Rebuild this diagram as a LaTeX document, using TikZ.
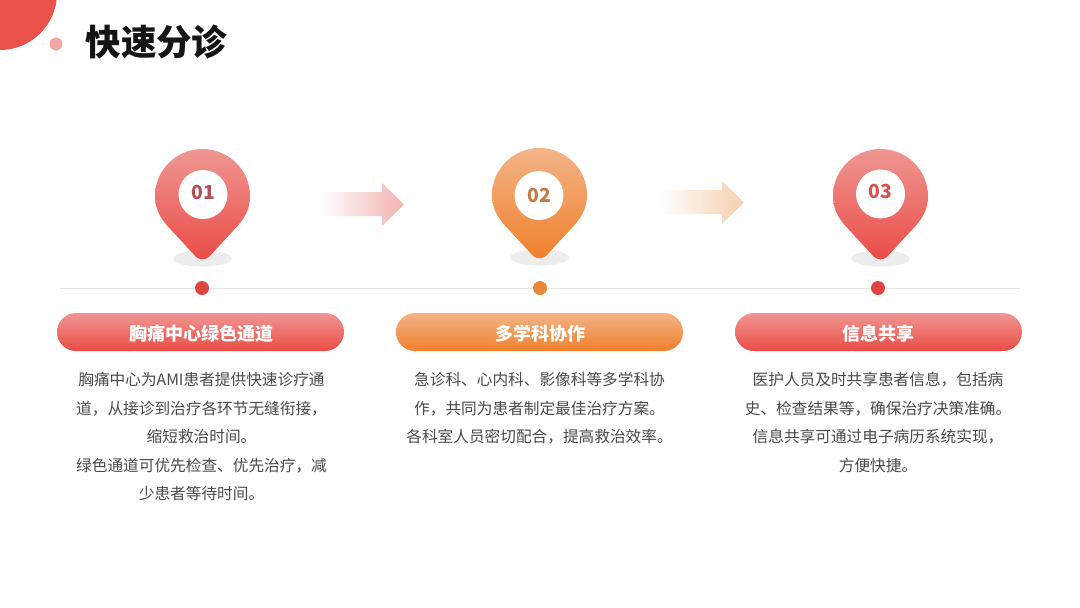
\documentclass[tikz,border=0pt]{standalone}
\usepackage{fontspec}
\setmainfont{Noto Sans CJK SC}
\usetikzlibrary{calc}
\definecolor{redTop}{HTML}{EF9793}
\definecolor{redBot}{HTML}{EB4C46}
\definecolor{orTop}{HTML}{F3B487}
\definecolor{orBot}{HTML}{F0802C}
\definecolor{redDot}{HTML}{DE4540}
\definecolor{orDot}{HTML}{E8863A}
\definecolor{bodyText}{HTML}{4A4A4A}
\definecolor{cornerRed}{HTML}{E8524A}
\definecolor{arrowRed}{HTML}{F2B2B0}
\definecolor{arrowOr}{HTML}{F6CFAE}
\definecolor{numRed}{HTML}{B5505A}
\definecolor{numOr}{HTML}{C47A45}
\definecolor{numRedB}{HTML}{D8504C}
\tikzset{
  x=0.75pt,y=-0.75pt,
  bodytext/.style={font=\fontsize{11.75pt}{21.4pt}\selectfont,text=bodyText,align=center,inner sep=0pt,anchor=north,text width=230pt},
  pilltext/.style={font=\fontsize{13.5pt}{16pt}\selectfont\bfseries,text=white,inner sep=0pt},
  numtext/.style={font=\fontsize{14.5pt}{18pt}\selectfont\bfseries,inner sep=0pt},
  pillbox/.style={rounded corners=14.2pt,draw=none},
  innerdisc/.style={circle,fill=white,minimum size=36.75pt,inner sep=0pt},
  shadowdisc/.style={fill=black!7},
  dotmark/.style={circle,minimum size=10.5pt,inner sep=0pt},
}
\newcommand{\pinshape}[4]{% x, top y, top colour, bottom colour
  \fill[shadowdisc,shift={(#1,#2)}] (0,109.5) ellipse [x radius=22pt,y radius=6pt];
  \shade[top color=#3,bottom color=#4,shift={(#1,#2)}]
    (0,110.3) .. controls (4,110.3) and (7,108) .. (10,104)
    -- (35,77)
    .. controls (43,68) and (47.5,59) .. (47.5,47)
    .. controls (47.5,21) and (26,0) .. (0,0)
    .. controls (-26,0) and (-47.5,21) .. (-47.5,47)
    .. controls (-47.5,59) and (-43,68) .. (-35,77)
    -- (-10,104)
    .. controls (-7,108) and (-4,110.3) .. (0,110.3) -- cycle;
}
\newcommand{\fadearrow}[3]{% y offset, x start, colour
  \shade[left color=white,right color=#3,shift={(#2,#1)}]
    (0,9) -- (62,9) -- (62,0) -- (84,21.5) -- (62,43) -- (62,33) -- (0,33) -- cycle;
}
\begin{document}
\begin{tikzpicture}
\useasboundingbox (0,0) rectangle (1080,607);
\fill[white] (0,0) rectangle (1080,607);
% corner decoration
\begin{scope}
  \clip (0,0) rectangle (80,80);
  \coordinate (cornerC) at (0,-7);
  \fill[cornerRed] (cornerC) circle [radius=42.75pt];
\end{scope}
\node[circle,fill=redTop!85!white,minimum size=9.75pt,inner sep=0pt] (deco) at (56,44) {};
\node[font=\fontsize{26.6pt}{30pt}\selectfont\bfseries,text=black!92,inner sep=0pt] (title) at (156.5,42) {快速分诊};
% timeline
\coordinate (lineL) at (60,288);
\coordinate (lineR) at (1020,288);
\draw[black!9,line width=0.6pt] (lineL) -- (lineR);
% arrows
\fadearrow{183}{320}{arrowRed}
\fadearrow{181}{660}{arrowOr}
% pins
\pinshape{202.5}{149}{redTop}{redBot}
\pinshape{539.5}{148}{orTop}{orBot}
\pinshape{880.5}{149}{redTop}{redBot}
\node[innerdisc] (a) at (203,194.5) {};
\node[innerdisc] (b) at (539,195.5) {};
\node[innerdisc] (c) at (880.5,194) {};
\node[numtext,text=numRed] (na) at (203,192) {01};
\node[numtext,text=numOr] (nb) at (539,195) {02};
\node[numtext,text=numRedB] (nc) at (880.5,191.5) {03};
\node[dotmark,fill=redDot] (d1) at (202,288) {};
\node[dotmark,fill=orDot] (d2) at (540,288) {};
\node[dotmark,fill=redDot] (d3) at (878,288) {};
% pills
\shade[pillbox,top color=redTop,bottom color=redBot] (57,313) rectangle (344,351);
\shade[pillbox,top color=orTop,bottom color=orBot] (396,313) rectangle (683,351);
\shade[pillbox,top color=redTop,bottom color=redBot] (735,313) rectangle (1022,351);
\node[pilltext] (p1) at (201,334) {胸痛中心绿色通道};
\node[pilltext] (p2) at (540,334) {多学科协作};
\node[pilltext] (p3) at (878,334) {信息共享};
% body
\node[bodytext] (t1) at (201.5,372) {胸痛中心为AMI患者提供快速诊疗通\\道，从接诊到治疗各环节无缝衔接，\\缩短救治时间。\\绿色通道可优先检查、优先治疗，减\\少患者等待时间。};
\node[bodytext] (t2) at (539.5,372) {急诊科、心内科、影像科等多学科协\\作，共同为患者制定最佳治疗方案。\\各科室人员密切配合，提高救治效率。};
\node[bodytext] (t3) at (878,372) {医护人员及时共享患者信息，包括病\\史、检查结果等，确保治疗决策准确。\\信息共享可通过电子病历系统实现，\\方便快捷。};
\end{tikzpicture}
\end{document}
